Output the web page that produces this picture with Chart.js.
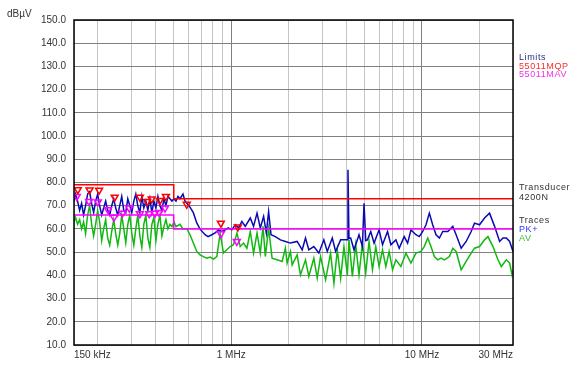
<!DOCTYPE html>
<html>
<head>
<meta charset="utf-8">
<script src="https://cdn.jsdelivr.net/npm/chart.js@4.4.1/dist/chart.umd.min.js"></script>
<style>
  html, body { margin: 0; padding: 0; background: #fff; }
  #wrap { width: 587px; height: 369px; }
</style>
</head>
<body>
<div id="wrap"><canvas id="emi"></canvas></div>
<script>
// Frequenzen in MHz, Pegel in dBµV
const pkTrace = [
  [0.150,72],[0.1528,75],[0.1566,72],[0.1605,68],[0.1644,71],[0.1684,66],[0.1725,70],[0.1768,75],[0.1811,76],[0.1856,71],
  [0.1901,67],[0.1948,72],[0.1995,75],[0.2044,70],[0.2095,66],[0.2146,69],[0.2198,72],[0.2253,68],[0.2308,66],[0.2365,70],
  [0.2423,73],[0.2482,69],[0.2543,66],[0.2605,70],[0.2669,74],[0.2735,68],[0.2802,67],[0.2871,73],[0.2941,70],[0.3013,67],
  [0.3087,72],[0.3162,75],[0.3240,70],[0.3320,67],[0.3401,74],[0.3484,69],[0.3570,72],[0.3658,68],[0.3747,73],[0.3839,67],
  [0.3933,72],[0.4030,69],[0.4129,74],[0.4230,70],[0.4334,68],[0.4440,73],[0.4549,70],[0.4661,74],[0.4775,73],[0.4892,72],
  [0.5012,73],[0.5135,72],[0.5261,74],[0.5390,73],[0.5589,75],[0.5726,72],[0.5867,71],[0.6011,70],
  [0.6333,67.0],[0.6600,62.6],[0.6868,59.9],[0.7298,57.5],[0.7566,56.7],[0.7914,57.5],[0.8236,58.3],[0.8574,59.6],
  [0.8935,58.9],[0.9299,59.6],[0.9643,60.5],[1.0085,59.6],[1.050,61.8],[1.092,60.5],[1.138,63.2],[1.185,61.1],
  [1.259,64.7],[1.310,61.1],[1.366,66.8],[1.421,60.4],[1.479,65.4],[1.528,58.2],[1.571,67.5],[1.618,57.5],
  [1.704,56.7],[1.811,55.3],[1.924,54.6],[2.044,53.9],[2.217,54.6],[2.356,51.0],[2.452,56.1],[2.552,51.0],
  [2.711,52.4],[2.881,49.6],[3.060,55.3],[3.189,50.3],[3.388,56.1],[3.527,50.3],[3.747,55.3],[4.064,55.3],
  [4.094,85.5],[4.144,56.0],[4.230,56.1],[4.403,51.0],[4.677,57.5],[4.874,52.4],[4.969,71.1],[5.073,55.0],
  [5.178,55.3],[5.390,58.9],[5.610,53.9],[5.960,59.6],[6.212,53.2],[6.600,58.9],[6.869,53.2],[7.298,55.3],
  [7.596,51.7],[8.070,56.7],[8.410,53.9],[8.754,59.6],[9.299,57.5],[9.678,56.7],[10.09,58.9],[10.50,61.8],
  [10.93,66.8],[11.38,61.8],[11.85,57.5],[12.34,56.1],[12.85,58.9],[13.66,58.9],[14.51,61.1],[15.10,57.5],
  [16.05,51.7],[17.04,54.6],[18.11,58.9],[18.85,62.5],[20.03,61.8],[21.28,64.7],[22.61,66.8],[24.02,61.1],
  [25.52,54.6],[26.59,56.1],[27.68,56.1],[28.81,54.6],[30.0,50.3]
];

const avTrace = [
  [0.150,63],[0.1528,65],[0.1566,62],[0.1605,64],[0.1644,60],[0.1684,63],[0.1725,58],[0.1768,66],[0.1811,70],[0.1856,62],
  [0.1901,57],[0.1948,62],[0.1995,68],[0.2044,63],[0.2095,55],[0.2146,60],[0.2198,64],[0.2253,56],[0.2308,53],[0.2365,59],
  [0.2423,64],[0.2482,58],[0.2543,53],[0.2605,58],[0.2669,66],[0.2735,60],[0.2802,54],[0.2871,62],[0.2941,66],[0.3013,58],
  [0.3087,53],[0.3162,60],[0.3240,66],[0.3320,57],[0.3401,52],[0.3484,62],[0.3570,66],[0.3658,56],[0.3747,52],[0.3839,62],
  [0.3933,65],[0.4030,55],[0.4129,62],[0.4230,66],[0.4334,57],[0.4440,61],[0.4549,64],[0.4661,60],[0.4775,62],[0.4892,61],
  [0.5012,63],[0.5135,61],[0.5390,62],[0.5589,60],[0.5867,60],
  [0.6085,57.5],[0.6333,53.9],[0.6600,50.3],[0.6868,48.8],[0.7149,48.1],[0.7449,47.4],[0.7753,47.9],[0.8069,47.0],
  [0.8407,48.1],[0.8752,58.2],[0.9110,49.6],[0.9493,51.0],[0.9879,52.4],[1.028,53.2],[1.072,58.2],[1.115,52.4],
  [1.161,53.9],[1.209,51.7],[1.259,58.9],[1.310,49.6],[1.366,58.2],[1.421,49.6],[1.468,61.1],[1.510,48.1],
  [1.571,60.4],[1.638,47.4],[1.740,46.7],[1.849,46.0],[1.924,51.7],[1.964,45.3],[2.044,50.3],[2.087,44.5],
  [2.217,48.8],[2.307,40.2],[2.452,46.7],[2.552,39.5],[2.711,47.4],[2.825,38.8],[2.940,48.1],[3.124,38.1],
  [3.319,49.6],[3.455,36.6],[3.600,51.0],[3.747,38.8],[3.900,52.4],[4.064,40.2],[4.144,55.3],[4.318,39.5],
  [4.495,53.2],[4.677,40.2],[4.874,53.9],[5.073,41.0],[5.280,54.6],[5.502,42.4],[5.726,52.4],[5.960,43.8],
  [6.212,51.0],[6.465,43.8],[6.729,50.3],[7.012,42.4],[7.298,46.7],[7.754,43.8],[8.239,49.6],[8.754,45.3],
  [9.299,49.6],[9.879,50.3],[10.28,52.4],[10.72,56.1],[11.15,52.4],[11.61,48.1],[12.09,46.7],[12.59,47.4],
  [13.10,46.7],[13.92,48.1],[14.51,51.7],[15.10,50.3],[16.05,42.4],[17.04,46.0],[18.11,49.6],[18.85,51.7],
  [20.03,52.4],[21.28,55.3],[22.17,56.7],[23.56,52.4],[25.03,46.7],[26.05,43.8],[27.68,46.7],[28.81,45.3],
  [29.66,40.2],[30.0,42.0]
];

// Grenzwerte EN 55011
const limitQP = [[0.15,79],[0.5,79],[0.5,73],[30,73]];
const limitAV = [[0.15,66],[0.5,66],[0.5,60],[30,60]];

// Einzelmessungen (Marker)
const qpMarks = [[0.157,76.9],[0.181,76.8],[0.203,76.7],[0.245,73.7],[0.332,73.7],[0.363,71.8],
  [0.383,72.9],[0.423,72.3],[0.455,74.0],[0.585,70.6],[0.883,62.5],[1.084,60.8]];
const avMarks = [[0.155,74.0],[0.180,71.8],[0.200,71.6],[0.226,68.3],[0.243,65.0],[0.269,66.8],
  [0.292,69.0],[0.332,66.5],[0.372,66.5],[0.398,66.8],[0.419,67.1],[0.450,69.0],[0.883,57.9],[1.07,54.6]];

// Achsen
const xGridValues = [0.15,0.2,0.3,0.4,0.5,0.6,0.7,0.8,0.9,1,2,3,4,5,6,7,8,9,10,20,30];
const xTickLabels = { 0.15: '150 kHz', 1: '1 MHz', 10: '10 MHz', 30: '30 MHz' };
const yTicks = [10,20,30,40,50,60,70,80,90,100,110,120,130,140,150];

const toXY = arr => arr.map(p => ({ x: p[0], y: p[1] }));
const font = { family: '"Liberation Sans", Arial, sans-serif', size: 10 };

// Rahmen, Einheit und Legende rechts
const sidePanel = {
  id: 'sidePanel',
  afterDraw(chart) {
    const { ctx, chartArea: a } = chart;
    ctx.save();
    ctx.strokeStyle = '#000';
    ctx.lineWidth = 1.5;
    ctx.strokeRect(a.left, a.top, a.right - a.left, a.bottom - a.top);
    ctx.textBaseline = 'middle';
    ctx.font = '10px "Liberation Sans", Arial, sans-serif';
    ctx.fillStyle = '#333';
    ctx.fillText('dBµV', 7, 14);
    // enge Zeilen wie im Original: kleinere Schrift, etwas gesperrt
    ctx.font = '9px "Liberation Sans", Arial, sans-serif';
    ctx.letterSpacing = '0.6px';
    const x = a.right + 6;
    const lines = [
      ['Limits', 58, '#26337a'],
      ['55011MQP', 66.5, '#ff2a2a'],
      ['55011MAV', 75, '#f030f0'],
      ['Transducer', 188, '#333'],
      ['4200N', 198, '#333'],
      ['Traces', 221, '#333'],
      ['PK+', 229.5, '#3333ff'],
      ['AV', 238.5, '#33bb33']
    ];
    lines.forEach(([t, y, c]) => { ctx.fillStyle = c; ctx.fillText(t, x, y); });
    ctx.restore();
  }
};

new Chart(document.getElementById('emi'), {
  type: 'line',
  data: {
    datasets: [
      { label: 'QP', data: toXY(qpMarks), showLine: false, pointStyle: 'triangle', rotation: 180,
        radius: 4, borderColor: '#ff0000', backgroundColor: 'rgba(0,0,0,0)', borderWidth: 1.5 },
      { label: 'AVm', data: toXY(avMarks), showLine: false, pointStyle: 'triangle', rotation: 180,
        radius: 4, borderColor: '#ff00ff', backgroundColor: 'rgba(0,0,0,0)', borderWidth: 1.5 },
      { label: '55011MQP', data: toXY(limitQP), borderColor: '#ff0000', borderWidth: 1.5, pointRadius: 0 },
      { label: '55011MAV', data: toXY(limitAV), borderColor: '#ff00ff', borderWidth: 1.5, pointRadius: 0 },
      { label: 'PK+', data: toXY(pkTrace), borderColor: '#0a0ab4', borderWidth: 1.5, pointRadius: 0 },
      { label: 'AV', data: toXY(avTrace), borderColor: '#10b810', borderWidth: 1.5, pointRadius: 0 }
    ]
  },
  options: {
    responsive: true,
    maintainAspectRatio: false,
    animation: false,
    layout: { padding: { top: 20, right: 74, bottom: 0, left: 0 } },
    plugins: { legend: { display: false }, tooltip: { enabled: false } },
    scales: {
      x: {
        type: 'logarithmic',
        min: 0.15,
        max: 30,
        afterBuildTicks: s => { s.ticks = xGridValues.map(v => ({ value: v })); },
        afterFit: s => { s.height = 24; },
        ticks: {
          autoSkip: false, maxRotation: 0, align: 'inner', padding: 4,
          color: '#333', font: font,
          callback: v => xTickLabels[v] || ''
        },
        grid: {
          drawTicks: false,
          color: c => (c.tick && (c.tick.value === 1 || c.tick.value === 10)) ? '#808080' : '#c4c4c4'
        },
        border: { display: false }
      },
      y: {
        min: 10,
        max: 150,
        afterBuildTicks: s => { s.ticks = yTicks.map(v => ({ value: v })); },
        afterFit: s => { s.width = 74; },
        ticks: { padding: 8, color: '#333', font: font, callback: v => Number(v).toFixed(1) },
        grid: { drawTicks: false, color: '#808080' },
        border: { display: false }
      }
    }
  },
  plugins: [sidePanel]
});
</script>
</body>
</html>
